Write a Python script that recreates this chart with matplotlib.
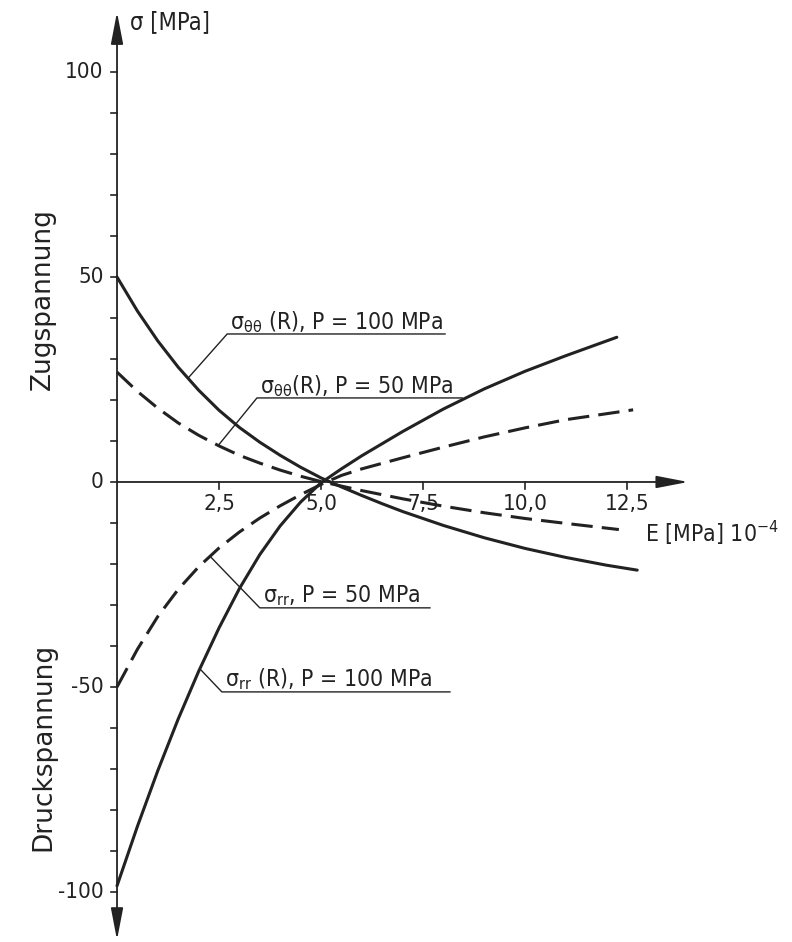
import numpy as np
import matplotlib.pyplot as plt

plt.rcParams['font.family'] = ['DejaVu Sans']
plt.rcParams['mathtext.fontset'] = 'dejavusans'

# E [MPa] 10^-4 and stress [MPa]
e_tt100 = [0, 0.5, 1, 1.5, 2, 2.5, 3, 3.5, 4, 4.5, 5, 5.5, 6, 6.5, 7, 8, 9, 10, 11, 12, 12.75]
s_tt100 = [50, 41.7, 34.4, 28.0, 22.4, 17.5, 13.3, 9.7, 6.5, 3.6, 1.0, -1.2, -3.3, -5.3, -7.2,
           -10.6, -13.6, -16.2, -18.4, -20.3, -21.5]

e_tt50 = [0, 0.5, 1, 1.5, 2, 2.5, 3, 3.5, 4, 4.5, 5, 6, 7, 8, 9, 10, 11, 12.3]
s_tt50 = [26.8, 22.1, 18.0, 14.4, 11.4, 8.8, 6.5, 4.6, 2.9, 1.4, 0.1, -2.1, -4.1, -5.9, -7.5,
          -8.9, -10.1, -11.6]

e_rr100 = [0, 0.5, 1, 1.5, 2, 2.5, 3, 3.5, 4, 4.5, 5, 5.5, 6, 7, 8, 9, 10, 11, 12.25]
s_rr100 = [-98.5, -84.0, -70.4, -57.8, -46.2, -35.6, -26.0, -17.7, -10.7, -4.9, -0.2, 3.2, 6.4,
           12.3, 17.8, 22.7, 27.0, 30.8, 35.3]

e_rr50 = [0, 0.5, 1, 1.5, 2, 2.5, 3, 3.5, 4, 4.5, 5, 5.5, 6, 7, 8, 9, 10, 11, 12.65]
s_rr50 = [-50, -40.8, -32.8, -26.2, -20.7, -16.1, -12.2, -8.8, -5.8, -3.1, -0.6, 1.6, 3.2, 5.9,
          8.5, 11.0, 13.2, 15.2, 17.6]

x_ticks = [2.5, 5.0, 7.5, 10.0, 12.5]
x_labels = ['2,5', '5,0', '7,5', '10,0', '12,5']
y_ticks = np.arange(-100, 101, 10)
y_labels = [100, 50, 0, -50, -100]

fig = plt.figure(figsize=(7.92, 9.42), dpi=100)
ax = fig.add_axes([0, 0, 1, 1])
ax.set_xlim(-2.868, 16.544)
ax.set_ylim(-112.2, 117.56)
ax.axis('off')

ink = '#222222'

# axes with arrows
arrow = dict(arrowstyle='-|>,head_length=1.3,head_width=0.25', color=ink,
             lw=1.3, shrinkA=0, shrinkB=0, mutation_scale=15)
ax.annotate('', xy=(14.0, 0), xytext=(0, 0), arrowprops=arrow)
ax.annotate('', xy=(0, 114.6), xytext=(0, 0), arrowprops=arrow)
ax.annotate('', xy=(0, -111.7), xytext=(0, 0), arrowprops=arrow)

tick_font = dict(fontsize=16, fontstretch='condensed', color=ink)
for t in y_ticks:
    ax.plot([-0.15, 0], [t, t], color=ink, lw=1.2)
for t, lab in zip(x_ticks, x_labels):
    ax.plot([t, t], [0, -1.8], color=ink, lw=1.2)
    ax.text(t, -5.4, lab, ha='center', va='center', **tick_font)
for t in y_labels:
    ax.text(-0.33, t, str(t), ha='right', va='center', **tick_font)

# curves
ax.plot(e_tt100, s_tt100, color=ink, lw=2.2, solid_capstyle='round', solid_joinstyle='round')
ax.plot(e_rr100, s_rr100, color=ink, lw=2.2, solid_capstyle='round', solid_joinstyle='round')
ax.plot(e_tt50, s_tt50, color=ink, lw=2.2, dashes=(7, 3))
ax.plot(e_rr50, s_rr50, color=ink, lw=2.2, dashes=(7, 3))


def label(xs, ys, x0, corner, x_end, text):
    y0 = np.interp(x0, xs, ys)
    ax.plot([x0, corner[0], x_end], [y0, corner[1], corner[1]], color=ink, lw=1.0)
    ax.text(corner[0] + 0.07, corner[1] + 1.3, text, ha='left', va='baseline',
            fontsize=16.5, fontstretch='condensed', color=ink)


label(e_tt100, s_tt100, 1.74, (2.70, 36.1), 8.04, r'σ$_{\mathregular{θθ}}$ (R), P = 100 MPa')
label(e_tt50, s_tt50, 2.48, (3.43, 20.5), 8.46, r'σ$_{\mathregular{θθ}}$(R), P = 50 MPa')
label(e_rr50, s_rr50, 2.28, (3.50, -30.7), 7.67, r'σ$_{\mathregular{rr}}$, P = 50 MPa')
label(e_rr100, s_rr100, 2.03, (2.57, -51.2), 8.16, r'σ$_{\mathregular{rr}}$ (R), P = 100 MPa')

ax.text(0.32, 112.2, 'σ [MPa]', ha='left', va='center', fontsize=17, fontstretch='condensed',
        color=ink)
ax.text(12.95, -12.4, r'E [MPa] 10$^{\mathregular{-4}}$', ha='left', va='center', fontsize=16.5,
        fontstretch='condensed', color=ink)

ax.text(-1.81, 44.6, 'Zugspannung', rotation=90, ha='center', va='center', fontsize=19, color=ink)
ax.text(-1.81, -64.7, 'Druckspannung', rotation=90, ha='center', va='center', fontsize=19,
        color=ink)

fig.savefig('out.png', dpi=100)
